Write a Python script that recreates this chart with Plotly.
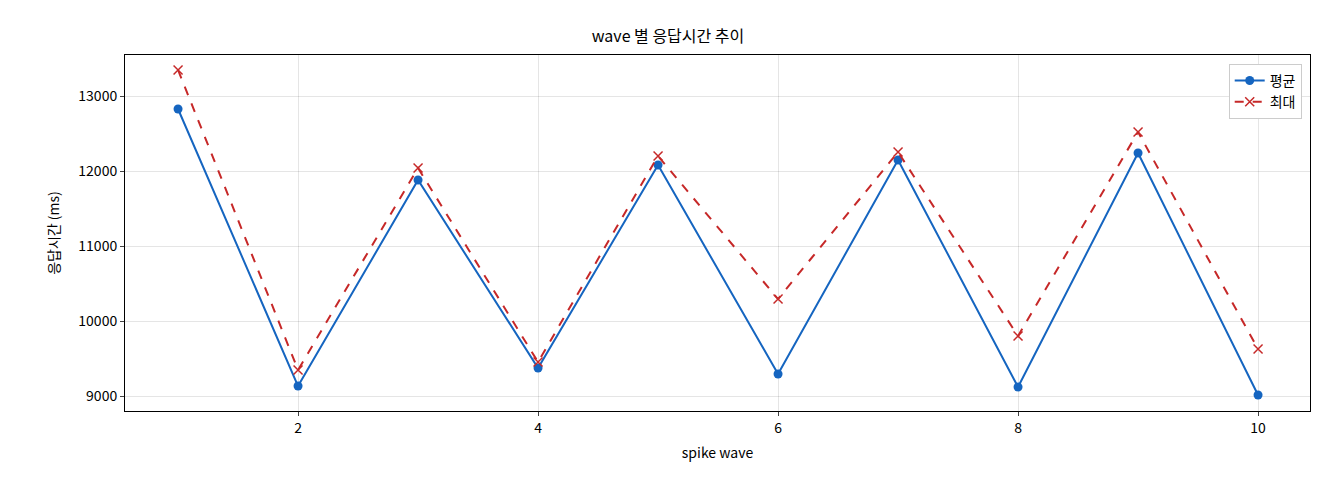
import plotly.graph_objects as go

waves = [1, 2, 3, 4, 5, 6, 7, 8, 9, 10]
avg_ms = [12827, 9133, 11880, 9373, 12080, 9293, 12147, 9120, 12240, 9013]
max_ms = [13347, 9347, 12040, 9453, 12200, 10293, 12253, 9800, 12520, 9627]
y_ticks = [9000, 10000, 11000, 12000, 13000]
y_tick_labels = ["9000", "10000", "11000", "12000", "13000"]

font = "Noto Sans CJK KR"
fig = go.Figure()
fig.add_trace(go.Scatter(x=waves, y=avg_ms, name="평균", mode="lines+markers",
                         line=dict(color="#1565c0", width=2), marker=dict(size=9, color="#1565c0")))
fig.add_trace(go.Scatter(x=waves, y=max_ms, name="최대", mode="lines+markers",
                         line=dict(color="#c62828", width=2, dash="dash"),
                         marker=dict(symbol="x-thin", size=9, line=dict(width=1.5, color="#c62828"), color="#c62828")))
axis = dict(showline=True, linecolor="black", mirror=True, ticks="outside", ticklen=4,
            gridcolor="rgba(0,0,0,0.1)", zeroline=False, automargin=False,
            tickfont=dict(size=14, color="black"))
fig.update_layout(
    width=1320, height=480, plot_bgcolor="white", paper_bgcolor="white",
    font=dict(family=font, color="black", size=14),
    margin=dict(l=117, r=18, t=47, b=77),
    title=dict(text="wave 별 응답시간 추이", x=0.5, xanchor="center", y=0.94, yanchor="middle",
               font=dict(size=16), automargin=False),
    xaxis=dict(axis, range=[0.558, 10.433], tickvals=[2, 4, 6, 8, 10],
               title=dict(text="spike wave", font=dict(size=14), standoff=12)),
    yaxis=dict(axis, range=[8800, 13547], tickvals=y_ticks, ticktext=y_tick_labels,
               title=dict(text="응답시간 (ms)", font=dict(size=14))),
    legend=dict(x=0.993, y=0.975, xanchor="right", yanchor="top", bordercolor="#cccccc",
                borderwidth=1, bgcolor="white", font=dict(size=14)),
    showlegend=True,
)
fig.write_html("out.html")
